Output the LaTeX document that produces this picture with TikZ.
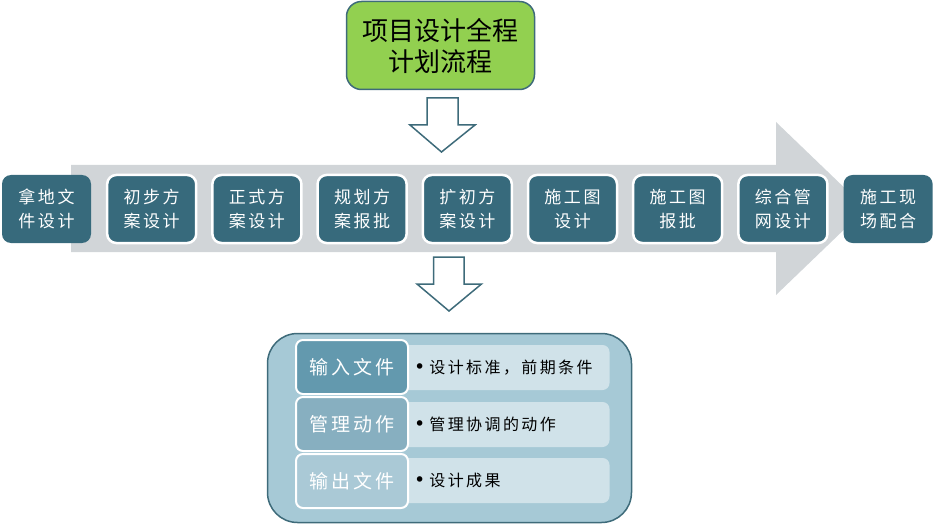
\documentclass[tikz,border=0pt]{standalone}
\usepackage{fontspec}
\setmainfont{Noto Sans CJK SC}
\newfontfamily\cjkw[LetterSpace=15]{Noto Sans CJK SC}
\newfontfamily\dejavu{DejaVu Sans}
\newcommand{\mybul}{{\dejavu\fontsize{19}{19}\selectfont •}}
\definecolor{titlegreen}{HTML}{92D050}
\definecolor{edgeteal}{HTML}{3E6B7A}
\definecolor{boxteal}{HTML}{376A7C}
\definecolor{arrowgray}{HTML}{D1D5D8}
\definecolor{contfill}{HTML}{A6C9D6}
\definecolor{rowA}{HTML}{6399AE}
\definecolor{rowB}{HTML}{87AFC0}
\definecolor{rowC}{HTML}{AAC9D6}
\definecolor{panelfill}{HTML}{D0E2E9}
\tikzset{
  stepbox/.style={fill=boxteal, rounded corners=9pt, minimum width=89pt, minimum height=68pt,
    inner sep=0pt, text=white, align=center, font=\fontsize{17}{24}\cjkw},
  whiteedge/.style={draw=white, line width=2.5pt},
  blockarrow/.style={draw=edgeteal, fill=white, line width=1.5pt, line join=miter},
  rowlabel/.style={draw=white, line width=2pt, rounded corners=7pt, minimum width=112pt,
    minimum height=54pt, inner sep=0pt, text=white, font=\fontsize{19}{22}\cjkw},
  panel/.style={fill=panelfill, rounded corners=7pt, minimum width=215pt, minimum height=45pt,
    inner sep=0pt},
  paneltext/.style={anchor=west, inner sep=0pt, font=\fontsize{16}{20}\cjkw, text=black}
}
\begin{document}
\begin{tikzpicture}[x=1pt,y=-1pt]
\useasboundingbox (0,0) rectangle (935,524);
% title
\node[draw=edgeteal, line width=1.5pt, fill=titlegreen, rounded corners=15pt,
  minimum width=188pt, minimum height=88pt, inner sep=0pt, align=center,
  font=\fontsize{26}{31}\selectfont] (title) at (440.5,45.5) {项目设计全程\\计划流程};
% first down arrow
\draw[blockarrow] (427,98) -- (458,98) -- (458,125) -- (475,125) -- (441.5,152)
  -- (410,125) -- (427,125) -- cycle;
% big gray arrow
\fill[arrowgray] (71,165) -- (776,165) -- (776,122) -- (866,208.5) -- (776,295)
  -- (776,252) -- (71,252) -- cycle;
% step boxes
\foreach \t [count=\i from 0] in {{拿地文\\件设计},{初步方\\案设计},{正式方\\案设计},{规划方\\案报批},
  {扩初方\\案设计},{施工图\\设计},{施工图\\报批},{综合管\\网设计},{施工现\\场配合}}{
  \ifnum\i=0
    \node[stepbox] (b\i) at ({46.5+105.2*\i},209) {\t};
  \else\ifnum\i=8
    \node[stepbox] (b\i) at ({46.5+105.2*\i},209) {\t};
  \else
    \node[stepbox, whiteedge] (b\i) at ({46.5+105.2*\i},209) {\t};
  \fi\fi
}
% second down arrow
\draw[blockarrow] (433.5,257) -- (464,257) -- (464,284) -- (481.5,284) -- (449,311)
  -- (417,284) -- (433.5,284) -- cycle;
% container
\node[draw=edgeteal, line width=1.5pt, fill=contfill, rounded corners=30pt,
  minimum width=364pt, minimum height=189pt, inner sep=0pt] (cont) at (449.5,428) {};
% panels
\node[panel] (p1) at (502,367.5) {};
\node[panel] (p2) at (502,424.5) {};
\node[panel] (p3) at (502,480.5) {};
\node[paneltext] (t1) at (414,367.5) {\mybul\hspace{4pt}设计标准，前期条件};
\node[paneltext] (t2) at (414,424.5) {\mybul\hspace{4pt}管理协调的动作};
\node[paneltext] (t3) at (414,480.5) {\mybul\hspace{4pt}设计成果};
% row labels
\node[rowlabel, fill=rowA] (r1) at (352,367) {输入文件};
\node[rowlabel, fill=rowB] (r2) at (352,424) {管理动作};
\node[rowlabel, fill=rowC] (r3) at (352,481) {输出文件};
\end{tikzpicture}
\end{document}
